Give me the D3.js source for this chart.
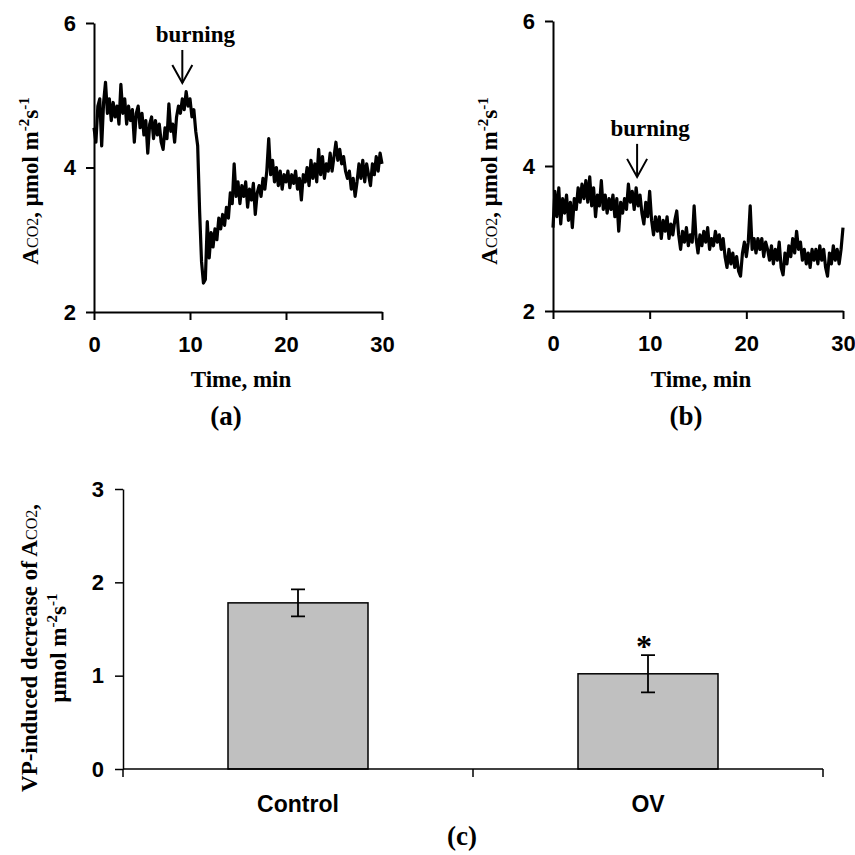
<!DOCTYPE html>
<html>
<head>
<meta charset="utf-8">
<script src="https://cdn.jsdelivr.net/npm/d3@7"></script>
<style>
  html, body { margin: 0; padding: 0; background: #fff; }
  svg text { fill: #000; }
  .serif { font-family: "Liberation Serif", "Times New Roman", serif; font-weight: bold; }
  .sans { font-family: "Liberation Sans", Arial, sans-serif; font-weight: bold; }
</style>
</head>
<body>
<svg id="chart" width="855" height="855"></svg>
<script>
// donnees (pas de 0.2 min, 0 -> 30 min)
var traceA = [
  4.55,4.35,4.85,4.95,4.30,4.90,5.18,4.75,4.95,4.65,
  4.90,4.70,4.85,4.60,5.15,4.75,4.95,4.60,4.85,4.65,
  4.80,4.35,4.75,4.85,4.55,4.75,4.45,4.65,4.20,4.60,
  4.70,4.40,4.65,4.45,4.60,4.35,4.25,4.55,4.40,4.88,
  4.50,4.60,4.35,4.70,4.85,4.75,4.95,4.80,5.05,4.85,
  4.95,4.70,4.80,4.50,4.30,3.40,2.70,2.40,2.45,3.25,
  2.75,3.10,2.90,3.15,3.00,3.30,3.15,3.35,3.20,3.45,
  3.30,3.65,3.50,4.05,3.60,3.80,3.50,3.75,3.60,3.80,
  3.45,3.70,3.55,3.78,3.35,3.65,3.75,3.60,3.85,3.70,
  3.95,4.40,3.90,4.10,3.80,4.00,3.75,3.95,3.70,3.90,
  3.80,3.95,3.72,3.90,3.78,3.95,3.70,3.85,3.55,3.90,
  3.80,4.00,3.75,4.10,3.85,4.05,3.80,4.25,3.90,4.15,
  3.85,4.05,3.95,4.20,3.95,4.15,4.35,4.10,4.25,4.05,
  4.15,3.95,3.85,3.95,3.70,3.85,3.60,3.80,4.05,3.85,
  4.10,3.80,4.05,3.90,3.75,4.05,3.90,4.15,3.95,4.20,
  4.05
];
var traceB = [
  3.15,3.65,3.30,3.70,3.20,3.55,3.35,3.60,3.25,3.50,
  3.15,3.55,3.40,3.70,3.50,3.75,3.55,3.80,3.50,3.85,
  3.45,3.70,3.30,3.60,3.45,3.80,3.40,3.60,3.35,3.55,
  3.40,3.60,3.30,3.55,3.10,3.50,3.35,3.55,3.40,3.75,
  3.50,3.65,3.40,3.70,3.45,3.60,3.35,3.20,3.50,3.30,
  3.65,3.25,3.05,3.30,3.10,3.30,3.00,3.25,3.10,3.30,
  3.00,3.20,3.05,3.25,3.38,3.05,2.85,3.10,2.95,3.15,
  2.90,3.05,2.95,3.45,3.00,2.80,3.05,2.90,3.10,2.95,
  3.15,2.85,3.00,2.90,3.10,2.95,3.05,2.85,3.00,2.75,
  2.60,2.85,2.65,2.80,2.60,2.75,2.55,2.48,2.80,2.95,
  2.75,2.95,3.45,2.85,3.00,2.80,3.00,2.85,3.00,2.75,
  2.95,2.85,2.70,2.90,2.65,2.85,2.70,2.95,2.60,2.50,
  2.80,2.65,2.90,2.75,3.00,2.80,3.10,2.85,2.95,2.70,
  2.85,2.65,2.80,2.60,2.85,2.70,2.85,2.65,2.90,2.70,
  2.85,2.60,2.48,2.80,2.65,2.90,2.70,2.85,2.65,2.85,
  3.15
];
var timeMax = 30;
var xTicks = [0, 10, 20, 30];
var yTicksAB = [2, 4, 6];
var burnTime = [9.2, 8.7];          // fleche "burning" (a), (b)
var burnLevel = [5.17, 3.85];       // pointe de la fleche

var categories = ["Control", "OV"];
var means = [1.78, 1.02];
var errs = [0.145, 0.2];
var yTicksC = [0, 1, 2, 3];

var svg = d3.select("#chart");
var fmt = d3.format("d");

// etiquette A_CO2, umol m-2 s-1
function labelACO2(g, withUnit, withComma) {
  g.append("tspan").text("A");
  g.append("tspan").attr("font-size", 16).attr("font-weight", "normal").text("CO2");
  if (withComma) g.append("tspan").text(",");
  if (withUnit) unitTspans(g, ", ");
}
function unitTspans(g, prefix) {
  g.append("tspan").text(prefix + "\u03bcmol m");
  g.append("tspan").attr("font-size", 15).attr("dy", -9).text("-2");
  g.append("tspan").attr("dy", 9).text("s");
  g.append("tspan").attr("font-size", 15).attr("dy", -9).text("-1");
}

//panneaux (a) et (b)
function panel(data, x0, x1, yTop, yBot, letter, bi) {
  var x = d3.scaleLinear().domain([0, timeMax]).range([x0, x1]);
  var y = d3.scaleLinear().domain([2, 6]).range([yBot, yTop]);
  var g = svg.append("g");

  var ax = g.append("g").attr("transform", "translate(0," + yBot + ")")
    .call(d3.axisBottom(x).tickValues(xTicks).tickFormat(fmt).tickSize(8).tickPadding(16).tickSizeOuter(0));
  var ay = g.append("g").attr("transform", "translate(" + x0 + ",0)")
    .call(d3.axisLeft(y).tickValues(yTicksAB).tickFormat(fmt).tickSize(8).tickPadding(10).tickSizeOuter(0));
  [ax, ay].forEach(function(a){
    a.selectAll("path,line").attr("stroke", "#000").attr("stroke-width", 2);
    a.selectAll("text").attr("class", "sans").attr("font-size", 22);
  });

  var line = d3.line()
    .x(function(d, i){ return x(i * timeMax / (data.length - 1)); })
    .y(function(d){ return y(d); });
  g.append("path").datum(data)
    .attr("d", line)
    .attr("fill", "none")
    .attr("stroke", "#000")
    .attr("stroke-width", 3.2)
    .attr("stroke-linejoin", "round");

  // fleche
  var bx = x(burnTime[bi]), by = y(burnLevel[bi]);
  g.append("line").attr("x1", bx).attr("x2", bx).attr("y1", by - 33).attr("y2", by)
    .attr("stroke", "#000").attr("stroke-width", 2);
  g.append("path").attr("d", "M" + (bx - 10) + "," + (by - 18) + "L" + bx + "," + by + "L" + (bx + 10) + "," + (by - 18))
    .attr("fill", "none").attr("stroke", "#000").attr("stroke-width", 2);
  g.append("text").attr("class", "serif").attr("font-size", 23)
    .attr("text-anchor", "middle").attr("x", bx + 13).attr("y", by - 41).text("burning");

  g.append("text").attr("class", "serif").attr("font-size", 23)
    .attr("text-anchor", "middle").attr("x", (x0 + x1) / 2 + 3).attr("y", 387).text("Time, min");
  g.append("text").attr("class", "serif").attr("font-size", 27)
    .attr("text-anchor", "middle").attr("x", (x0 + x1) / 2 - 12).attr("y", 425).text("(" + letter + ")");

  var yl = g.append("text").attr("class", "serif").attr("font-size", 23)
    .attr("text-anchor", "middle")
    .attr("transform", "translate(" + (x0 - 56) + ",181) rotate(-90)");
  labelACO2(yl, true, false);
}

panel(traceA, 94, 382, 23, 312, "a", 0);
panel(traceB, 553, 843, 21, 311, "b", 1);

//panneau (c)
var xc = d3.scaleBand().domain(categories).range([123, 823]).paddingInner(0.6).paddingOuter(0.3);
var yc = d3.scaleLinear().domain([0, 3]).range([769, 489]);
var gc = svg.append("g");

var ayc = gc.append("g").attr("transform", "translate(123,0)")
  .call(d3.axisLeft(yc).tickValues(yTicksC).tickFormat(fmt).tickSize(8).tickPadding(11).tickSizeOuter(0));
ayc.selectAll("path,line").attr("stroke", "#000").attr("stroke-width", 1.5);
ayc.selectAll("text").attr("class", "sans").attr("font-size", 22);

gc.selectAll(".bar").data(categories).enter().append("rect")
  .attr("class", "bar")
  .attr("x", function(d){ return xc(d); })
  .attr("width", xc.bandwidth())
  .attr("y", function(d, i){ return yc(means[i]); })
  .attr("height", function(d, i){ return yc(0) - yc(means[i]); })
  .attr("fill", "#c0c0c0").attr("stroke", "#000").attr("stroke-width", 1.5);

// axe x avec graduations entre categories
var xr = xc.range();
gc.append("line").attr("x1", xr[0]).attr("x2", xr[1]).attr("y1", yc(0)).attr("y2", yc(0))
  .attr("stroke", "#000").attr("stroke-width", 1.5);
var bounds = [0, 1, 2].map(function(k){ return xr[0] + k * xc.step(); });
gc.selectAll(".tk").data(bounds).enter().append("line")
  .attr("x1", function(d){ return d; }).attr("x2", function(d){ return d; })
  .attr("y1", yc(0)).attr("y2", yc(0) + 8)
  .attr("stroke", "#000").attr("stroke-width", 1.5);

// barres d'erreur
categories.forEach(function(c, i){
  var cx = xc(c) + xc.bandwidth() / 2;
  var hi = yc(means[i] + errs[i]), lo = yc(means[i] - errs[i]);
  gc.append("path")
    .attr("d", "M" + cx + "," + hi + "V" + lo + "M" + (cx - 7) + "," + hi + "H" + (cx + 7) + "M" + (cx - 7) + "," + lo + "H" + (cx + 7))
    .attr("fill", "none").attr("stroke", "#000").attr("stroke-width", 1.8);
  gc.append("text").attr("class", "sans").attr("font-size", 23)
    .attr("text-anchor", "middle").attr("x", cx).attr("y", 812).text(c);
});
var ovx = xc("OV") + xc.bandwidth() / 2;
gc.append("text").attr("class", "serif").attr("font-size", 32)
  .attr("text-anchor", "middle").attr("x", ovx - 4).attr("y", yc(means[1] + errs[1]) + 2).text("*");

gc.append("text").attr("class", "serif").attr("font-size", 27)
  .attr("text-anchor", "middle").attr("x", 462).attr("y", 845).text("(c)");

var l1 = gc.append("text").attr("class", "serif").attr("font-size", 23)
  .attr("text-anchor", "middle").attr("transform", "translate(37,648) rotate(-90)");
l1.append("tspan").text("VP-induced decrease of ");
labelACO2(l1, false, true);
var l2 = gc.append("text").attr("class", "serif").attr("font-size", 23)
  .attr("text-anchor", "middle").attr("transform", "translate(66,648) rotate(-90)");
unitTspans(l2, "");
</script>
</body>
</html>
